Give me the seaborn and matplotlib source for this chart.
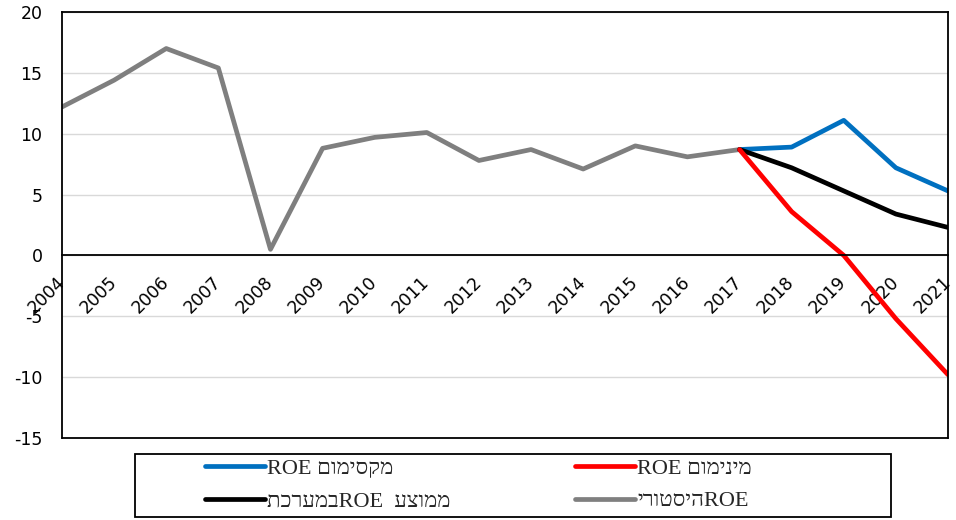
import re
import numpy as np
import pandas as pd
import matplotlib
matplotlib.use("Agg")
import matplotlib.pyplot as plt
import seaborn as sns
from matplotlib.patches import Rectangle

# data
hist_years = [2004, 2005, 2006, 2007, 2008, 2009, 2010, 2011, 2012, 2013, 2014, 2015, 2016, 2017]
hist_roe = [12.2, 14.4, 17.0, 15.4, 0.5, 8.8, 9.7, 10.1, 7.8, 8.7, 7.1, 9.0, 8.1, 8.7]
fc_years = [2017, 2018, 2019, 2020, 2021]
max_roe = [8.7, 8.9, 11.1, 7.2, 5.3]
min_roe = [8.7, 3.6, 0.0, -5.2, -9.8]
mean_roe = [8.7, 7.2, 5.3, 3.4, 2.3]
year_labels = [str(y) for y in range(2004, 2022)]

lbl_max = "מקסימום ROE"
lbl_min = "מינימום ROE"
lbl_mean = "ממוצע  ROEבמערכת"
lbl_hist = "ROEהיסטורי"


def visual(s):
    # simple RTL -> visual order for matplotlib (no bidi support)
    return re.sub(r"[A-Za-z0-9]+", lambda m: m.group()[::-1], s[::-1])


sns.set_style("white")
plt.rcParams["font.family"] = ["DejaVu Sans"]
plt.rcParams["axes.unicode_minus"] = False

fig = plt.figure(figsize=(9.56, 5.2), dpi=100)
ax = fig.add_axes([62 / 956, 1 - 438 / 520, 886 / 956, 426 / 520])

ax.yaxis.grid(True, color="#D9D9D9", lw=1)
ax.set_axisbelow(True)

df_hist = pd.DataFrame({"year": hist_years, "roe": hist_roe})
df_fc = pd.DataFrame({"year": fc_years, "max": max_roe, "min": min_roe, "mean": mean_roe})

lw = 3.4
sns.lineplot(data=df_hist, x="year", y="roe", color="#7F7F7F", lw=lw, ax=ax, label=visual(lbl_hist))
sns.lineplot(data=df_fc, x="year", y="max", color="#0070C0", lw=lw, ax=ax, label=visual(lbl_max))
sns.lineplot(data=df_fc, x="year", y="mean", color="black", lw=lw, ax=ax, label=visual(lbl_mean))
sns.lineplot(data=df_fc, x="year", y="min", color="#FF0000", lw=lw, ax=ax, label=visual(lbl_min))

# x axis crosses at zero, box closed below
ax.spines["bottom"].set_position(("data", 0))
for s in ax.spines.values():
    s.set_color("black")
    s.set_linewidth(1.3)
ax.axhline(-15, color="black", lw=1.3, clip_on=False)

ax.set_xlim(2004, 2021)
ax.set_ylim(-15, 20)
ax.set_yticks(np.arange(-15, 21, 5))
ax.set_xticks(range(2004, 2022))
ax.set_xticklabels(year_labels)
ax.set_xlabel("")
ax.set_ylabel("")

ax.tick_params(axis="x", direction="in", length=4.5, width=1.2, color="black",
               labelsize=12.5, labelcolor="black", pad=17, labelrotation=45)
ax.tick_params(axis="y", length=0, labelsize=12.5, labelcolor="black", pad=14)
for t in ax.get_xticklabels():
    t.set_ha("right")
    t.set_va("center")
    t.set_rotation_mode("anchor")

# legend box
fig.patches.append(Rectangle((135 / 956, 1 - 517 / 520), 756 / 956, 63 / 520,
                             transform=fig.transFigure, fill=False,
                             edgecolor="black", lw=1.3))

handles, labels = ax.get_legend_handles_labels()
order = [1, 2, 3, 0]  # max, mean | min, hist
ax.legend([handles[i] for i in order], [labels[i] for i in order],
          ncol=2, loc="upper left",
          bbox_to_anchor=(205 / 956, 1 - 458 / 520),
          bbox_transform=fig.transFigure,
          frameon=False, handlelength=2.7, handletextpad=0.1, borderpad=0,
          labelspacing=0.55, borderaxespad=0, columnspacing=5.6,
          prop={"family": ["Liberation Serif", "DejaVu Sans"], "size": 16})

fig.savefig("out.png", dpi=100)
